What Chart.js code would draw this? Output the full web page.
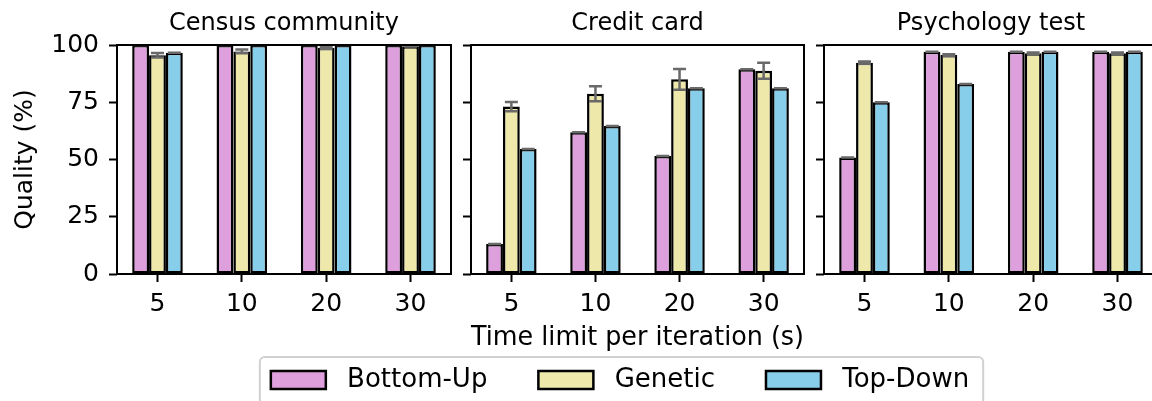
<!DOCTYPE html>
<html><head><meta charset="utf-8">
<script src="https://cdn.jsdelivr.net/npm/chart.js@4.4.0/dist/chart.umd.min.js"></script>
<style>
html,body{margin:0;padding:0;background:#fff;overflow:hidden;width:1152px;height:401px;}
canvas{position:absolute;top:0;}
</style></head><body>
<canvas id="c2" width="1152" height="401" style="left:0px"></canvas>
<canvas id="c1" width="460" height="401" style="left:0px"></canvas>
<canvas id="c3" width="360" height="401" style="left:814px"></canvas>
<script>
// ---- data ----
const timeLabels = ['5', '10', '20', '30'];
const seriesNames = ['Bottom-Up', 'Genetic', 'Top-Down'];
const panelTitles = ['Census community', 'Credit card', 'Psychology test'];
const yTicks = [0, 25, 50, 75, 100];
const xTitleText = 'Time limit per iteration (s)';
const yTitleText = 'Quality (%)';

const censusBottomUp = [100, 100, 100, 100];
const censusGenetic = [95.5, 97.2, 98.8, 99.5];
const censusTopDown = [96.6, 100, 100, 100];
const censusGeneticErr = [1.0, 0.8, 0.5, 0.2];

const creditBottomUp = [13.1, 61.9, 51.5, 89.4];
const creditGenetic = [73.1, 78.7, 85.0, 88.8];
const creditTopDown = [54.6, 64.6, 81.1, 81.1];
const creditGeneticErr = [2.0, 3.3, 4.5, 3.5];

const psychBottomUp = [50.9, 97.1, 97.1, 97.1];
const psychGenetic = [92.3, 95.6, 96.4, 96.4];
const psychTopDown = [75.0, 83.0, 97.1, 97.1];
const psychGeneticErr = [0.5, 0.4, 0.3, 0.3];

const zeroErr = [0, 0, 0, 0];

// ---- styles ----
const FAM = "'DejaVu Sans', sans-serif";
const colors = ['#DDA0DD', '#EEE8AA', '#87CEEB'];

const errorBarPlugin = {
  id: 'errbars',
  afterDatasetsDraw(chart, args, opts) {
    const ctx = chart.ctx, ys = chart.scales.y, ca = chart.chartArea;
    const errs = opts.errors || [];
    ctx.save();
    ctx.beginPath();
    ctx.rect(ca.left, ca.top, ca.right - ca.left, ca.bottom - ca.top);
    ctx.clip();
    ctx.strokeStyle = 'rgba(105,105,105,1)';
    ctx.lineWidth = 2.5;
    chart.data.datasets.forEach((ds, di) => {
      const meta = chart.getDatasetMeta(di);
      const e = errs[di] || [];
      meta.data.forEach((bar, i) => {
        const v = ds.data[i].y, err = e[i] || 0;
        const x = bar.x;
        const yl = ys.getPixelForValue(v - err), yh = ys.getPixelForValue(v + err);
        const cw = 6.5;
        ctx.beginPath();
        ctx.moveTo(x, yl); ctx.lineTo(x, yh);
        ctx.moveTo(x - cw, yl); ctx.lineTo(x + cw, yl);
        ctx.moveTo(x - cw, yh); ctx.lineTo(x + cw, yh);
        ctx.stroke();
      });
    });
    ctx.restore();
  }
};

const framePlugin = {
  id: 'frame',
  afterDraw(chart) {
    const ctx = chart.ctx, ca = chart.chartArea;
    ctx.save();
    ctx.strokeStyle = '#000';
    ctx.lineWidth = 2;
    ctx.strokeRect(ca.left, ca.top, ca.right - ca.left, ca.bottom - ca.top);
    ctx.restore();
  }
};

const legendFramePlugin = {
  id: 'legendFrame',
  beforeDraw(chart) {
    const lg = chart.legend;
    if (!lg || !lg.options.display || !lg.legendHitBoxes || !lg.legendHitBoxes.length) return;
    const hb = lg.legendHitBoxes;
    const l = hb[0].left - 11, r = hb[hb.length - 1].left + hb[hb.length - 1].width + 14;
    const t = hb[0].top - 10;
    const ctx = chart.ctx;
    ctx.save();
    ctx.strokeStyle = 'rgba(204,204,204,0.9)';
    ctx.lineWidth = 2;
    ctx.fillStyle = '#fff';
    ctx.beginPath();
    ctx.roundRect(l, t, r - l, 70, 5);
    ctx.fill();
    ctx.stroke();
    ctx.restore();
  }
};

function makeChart(id, idx, bu, gen, td, genErr, cfg) {
  const series = [bu, gen, td];
  const datasets = series.map((arr, s) => ({
    label: seriesNames[s],
    data: arr.map((v, i) => ({x: i, y: v})),
    backgroundColor: colors[s],
    borderColor: '#000',
    borderWidth: 2.5,
    borderSkipped: false,
    categoryPercentage: 0.6,
    barPercentage: 1.0
  }));
  const scales = {
    x: {
      type: 'linear', min: -0.48, max: 3.48, offset: false,
      afterBuildTicks: s => { s.ticks = timeLabels.map((_, i) => ({value: i})); },
      afterFit: s => { s.height = cfg.xHeight; },
      grid: {display: true, drawOnChartArea: false, drawTicks: true, tickLength: 8, tickWidth: 2, tickColor: '#000', offset: false},
      border: {display: false},
      ticks: {
        color: '#000', font: {family: FAM, size: 25}, padding: 7,
        maxRotation: 0, autoSkip: false,
        callback: v => (timeLabels[v] !== undefined ? timeLabels[v] : '')
      },
      title: cfg.xTitle ? {
        display: true, text: xTitleText, color: '#000',
        font: {family: FAM, size: 27}, padding: {top: 0, bottom: cfg.xTitlePad}
      } : {display: false}
    },
    y: {
      min: 0, max: 100,
      afterBuildTicks: s => { s.ticks = yTicks.map(v => ({value: v})); },
      afterFit: s => { s.width = cfg.yWidth; },
      grid: {display: true, drawOnChartArea: false, drawTicks: true, tickLength: 8, tickWidth: 2, tickColor: '#000'},
      border: {display: false},
      ticks: {
        display: cfg.yLabels, color: '#000', font: {family: FAM, size: 25}, padding: 10
      },
      title: cfg.yTitle ? {
        display: true, text: yTitleText, color: '#000',
        font: {family: FAM, size: 25}, padding: {top: 10, bottom: 0}
      } : {display: false}
    }
  };
  if (cfg.rightWidth) {
    scales.yRight = {
      position: 'right', display: true, min: 0, max: 1,
      afterFit: s => { s.width = cfg.rightWidth; },
      grid: {display: false}, border: {display: false}, ticks: {display: false}
    };
  }
  return new Chart(document.getElementById(id), {
    type: 'bar',
    data: {datasets},
    plugins: [errorBarPlugin, framePlugin, legendFramePlugin],
    options: {
      responsive: false,
      animation: false,
      events: [],
      layout: {padding: cfg.padding},
      plugins: {
        errbars: {errors: [zeroErr, genErr, zeroErr]},
        tooltip: {enabled: false},
        title: {
          display: true, text: panelTitles[idx], fullSize: false,
          color: '#000', font: {family: FAM, size: 24, weight: 'normal'},
          padding: {top: 9.6, bottom: 6.6}
        },
        legend: cfg.legend ? {
          display: true, position: 'bottom',
          labels: {
            boxWidth: 55, boxHeight: 18, padding: 51, color: '#000',
            font: {family: FAM, size: 26},
            generateLabels: chart => Chart.defaults.plugins.legend.labels.generateLabels(chart)
              .map(item => Object.assign(item, {text: '\u00a0' + item.text}))
          }
        } : {display: false}
      },
      scales
    }
  });
}

// middle panel: plot area 471..804, legend centred at 620
makeChart('c2', 1, creditBottomUp, creditGenetic, creditTopDown, creditGeneticErr, {
  padding: {left: 88, right: 0, top: 0, bottom: -2},
  yWidth: 383, rightWidth: 348, yLabels: false, yTitle: false,
  xTitle: true, xTitlePad: -38.6, legend: true, xHeight: 42
});
makeChart('c1', 0, censusBottomUp, censusGenetic, censusTopDown, censusGeneticErr, {
  padding: {left: 0, right: 9, top: 0, bottom: 0},
  yWidth: 117, yLabels: true, yTitle: true, xTitle: false, legend: false, xHeight: 127
});
makeChart('c3', 2, psychBottomUp, psychGenetic, psychTopDown, psychGeneticErr, {
  padding: {left: 0, right: 16, top: 0, bottom: 0},
  yWidth: 10, yLabels: false, yTitle: false, xTitle: false, legend: false, xHeight: 127
});
</script>
</body></html>
